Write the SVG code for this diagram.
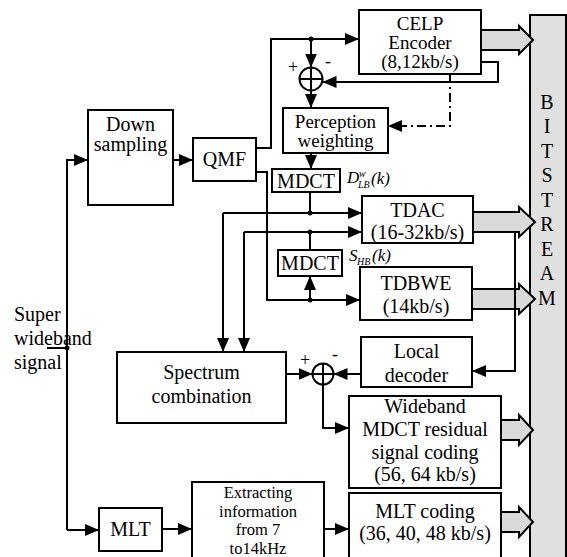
<svg xmlns="http://www.w3.org/2000/svg" width="567" height="557" viewBox="0 0 567 557">
<style>
text{font-family:Liberation Serif,Times New Roman,Times,serif;fill:#000}
.box{fill:#fff;stroke:#000;stroke-width:2}
.t{font-size:20px;text-anchor:middle}
.s{font-size:19px;text-anchor:middle}
.x{font-size:16.5px;text-anchor:middle}
.tl{font-size:20px}
.ln{fill:none;stroke:#000;stroke-width:2}
.arr{fill:none;stroke:#000;stroke-width:2;marker-end:url(#ah)}
.blk{fill:#d9d9d9;stroke:#000;stroke-width:2;stroke-linejoin:miter}
.dot{fill:#000}
.it{font-style:italic}
.sg{font-size:18px;text-anchor:middle}
</style>
<defs>
<marker id="ah" viewBox="0 0 14 12" refX="14" refY="6" markerWidth="14" markerHeight="12" markerUnits="userSpaceOnUse" orient="auto">
<path d="M0,0 L14,6 L0,12 Z" fill="#000"/>
</marker>
</defs>

<g id="bitstream">
<rect x="530" y="15" width="36" height="550" fill="#e0e0e0" stroke="#000" stroke-width="2"/>
<text class="t" x="547" y="109">B</text>
<text class="t" x="547" y="133">I</text>
<text class="t" x="547" y="158">T</text>
<text class="t" x="547" y="182">S</text>
<text class="t" x="547" y="207">T</text>
<text class="t" x="547" y="231">R</text>
<text class="t" x="547" y="256">E</text>
<text class="t" x="547" y="280">A</text>
<text class="t" x="547" y="305">M</text>
</g>

<g id="outputs">
<path class="blk" d="M481,30 L519,30 L519,26 L533,40 L519,54 L519,50 L481,50 Z"/>
<path class="blk" d="M473,212 L519,212 L519,207 L535,222 L519,237 L519,232 L473,232 Z"/>
<path class="blk" d="M472,289 L519,289 L519,284 L535,299 L519,314 L519,309 L472,309 Z"/>
<path class="blk" d="M501,420 L519,420 L519,415 L533,430 L519,445 L519,440 L501,440 Z"/>
<path class="blk" d="M501,512 L519,512 L519,507 L533,522 L519,537 L519,532 L501,532 Z"/>
</g>

<g id="celp"><rect class="box" x="359" y="10" width="122" height="64"/>
<text class="s" x="420" y="30">CELP</text><text class="s" x="420" y="49">Encoder</text><text class="s" x="420" y="68">(8,12kb/s)</text></g>

<g id="downsampling"><rect class="box" x="88" y="110" width="85" height="95"/>
<text class="t" x="130.5" y="131">Down</text><text class="t" x="130.5" y="151">sampling</text></g>

<g id="qmf"><rect class="box" x="193" y="138" width="63" height="43"/>
<text class="t" x="224.5" y="166">QMF</text></g>

<g id="perception"><rect class="box" x="283" y="108" width="105" height="45"/>
<text class="s" x="335.5" y="128">Perception</text><text class="s" x="335.5" y="147">weighting</text></g>

<g id="mdct1"><rect class="box" x="272" y="169" width="68" height="23"/>
<text class="t" x="306" y="188">MDCT</text>
<text class="it" x="347" y="183" font-size="17">D</text>
<text class="it" x="359" y="177" font-size="10">w</text>
<text class="it" x="358" y="188" font-size="10">LB</text>
<text class="it" x="371" y="184" font-size="17">(k)</text></g>

<g id="tdac"><rect class="box" x="362" y="196" width="111" height="47"/>
<text class="t" x="417.5" y="217">TDAC</text><text class="t" x="417.5" y="239">(16-32kb/s)</text></g>

<g id="mdct2"><rect class="box" x="278" y="250" width="64" height="26"/>
<text class="t" x="310" y="270">MDCT</text>
<text class="it" x="349" y="261" font-size="17">S</text>
<text class="it" x="357" y="265" font-size="10">HB</text>
<text class="it" x="372" y="261" font-size="17">(k)</text></g>

<g id="tdbwe"><rect class="box" x="360" y="267" width="112" height="53"/>
<text class="t" x="416" y="290">TDBWE</text><text class="t" x="416" y="313">(14kb/s)</text></g>

<g id="localdecoder"><rect class="box" x="361" y="337" width="111" height="50"/>
<text class="t" x="416.5" y="358">Local</text><text class="t" x="416.5" y="382">decoder</text></g>

<g id="spectrum"><rect class="box" x="117" y="352" width="169" height="71"/>
<text class="t" x="201.5" y="379">Spectrum</text><text class="t" x="201.5" y="403">combination</text></g>

<g id="wideband"><rect class="box" x="349" y="396" width="152" height="92"/>
<text class="t" x="425" y="413">Wideband</text><text class="t" x="425" y="436">MDCT residual</text><text class="t" x="425" y="459">signal coding</text><text class="t" x="425" y="481">(56, 64 kb/s)</text></g>

<g id="mlt"><rect class="box" x="99" y="508" width="63" height="43"/>
<text class="t" x="130.5" y="536">MLT</text></g>

<g id="extracting"><rect class="box" x="192" y="482" width="132" height="85"/>
<text class="x" x="258" y="498">Extracting</text><text class="x" x="258" y="516.5">information</text><text class="x" x="258" y="535">from 7</text><text class="x" x="258" y="553.5">to14kHz</text></g>

<g id="mltcoding"><rect class="box" x="349" y="493" width="152" height="75"/>
<text class="t" x="425" y="518">MLT coding</text><text class="t" x="425" y="540">(36, 40, 48 kb/s)</text></g>

<g id="adder1"><circle cx="311" cy="79" r="11.5" fill="#fff" stroke="#000" stroke-width="2"/>
<path class="ln" d="M299.5,79 H322.5 M311,67.5 V90.5"/>
<text class="sg" x="293" y="73">+</text><text class="sg" x="328" y="67">-</text></g>

<g id="adder2"><circle cx="323" cy="374" r="10.5" fill="#fff" stroke="#000" stroke-width="2"/>
<path class="ln" d="M312.5,374 H333.5 M323,363.5 V384.5"/>
<text class="sg" x="305" y="366">+</text><text class="sg" x="335" y="360">-</text></g>

<g id="label"><text class="tl" x="14" y="321">Super</text><text class="tl" x="14" y="345">wideband</text><text class="tl" x="14" y="369">signal</text></g>

<g id="connectors">
<path class="ln" d="M47,348 H67"/>
<circle class="dot" cx="67" cy="348" r="2.5"/>
<path class="arr" d="M67,530 V160 H88"/>
<path class="arr" d="M67,530 H99"/>
<path class="arr" d="M173,160 H193"/>
<path class="arr" d="M256,148 H271 V39 H359"/>
<circle class="dot" cx="311" cy="39" r="2.5"/>
<path class="arr" d="M311,39 V67.5"/>
<path class="arr" d="M481,62 H498 V82 H322.5"/>
<path class="arr" d="M311,90.5 V108"/>
<path class="arr" d="M450,74 V126 H388" stroke-dasharray="9,4,2,4"/>
<path class="arr" d="M311,153 V169"/>
<path class="ln" d="M310,192 V213"/>
<path class="ln" d="M223,213 H362"/>
<path class="arr" d="M310,213 H362"/>
<path class="arr" d="M223,213 V352"/>
<path class="ln" d="M244,232 H362"/>
<path class="arr" d="M310,232 H362"/>
<path class="arr" d="M244,232 V352"/>
<circle class="dot" cx="310" cy="213" r="2.5"/>
<circle class="dot" cx="310" cy="232" r="2.5"/>
<path class="ln" d="M310,232 V250"/>
<path class="arr" d="M256,172 H267 V300 H360"/>
<circle class="dot" cx="310" cy="300" r="2.5"/>
<path class="arr" d="M310,300 V276"/>
<path class="arr" d="M515,232 V371 H472"/>
<path class="arr" d="M286,374 H312.5"/>
<path class="arr" d="M361,374 H333.5"/>
<path class="arr" d="M323,384.5 V428 H349"/>
<path class="arr" d="M162,529 H192"/>
<path class="arr" d="M324,529 H349"/>
</g>
</svg>
